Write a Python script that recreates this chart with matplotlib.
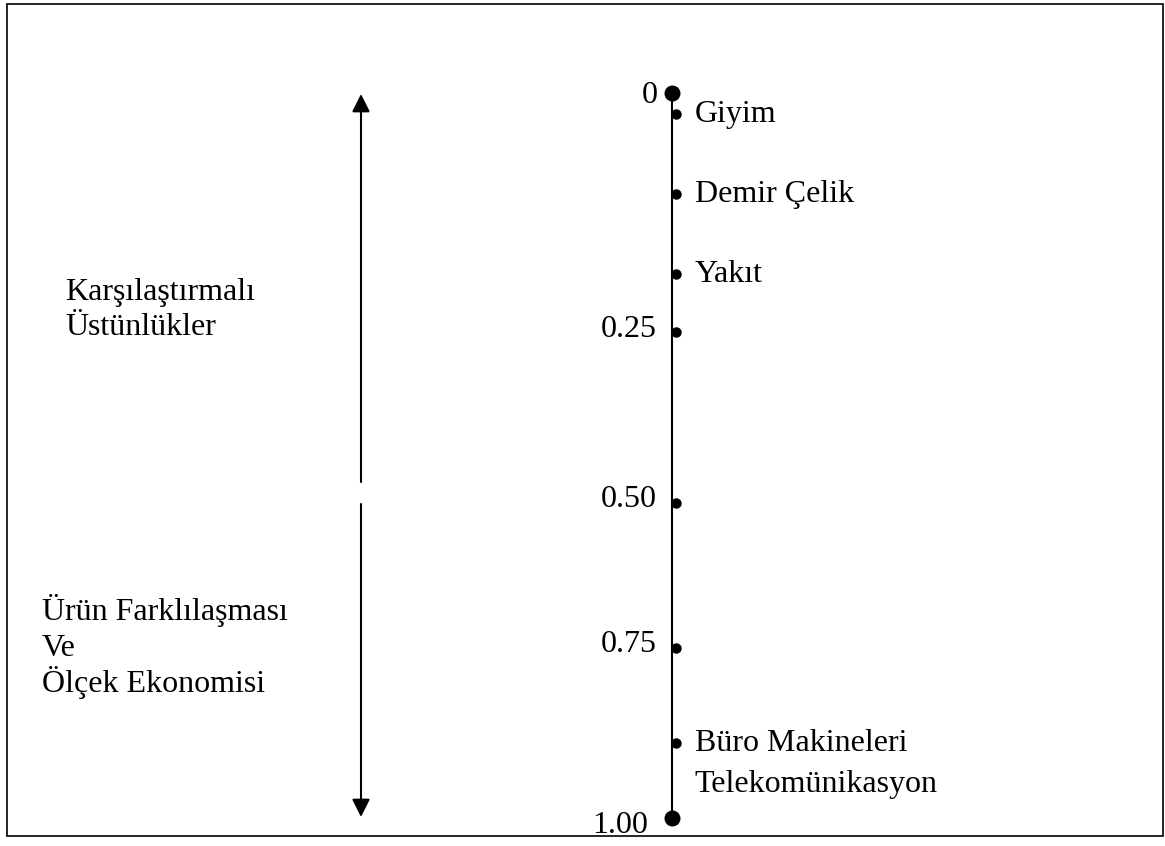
import matplotlib
matplotlib.use('Agg')
import matplotlib.pyplot as plt
from matplotlib.patches import Rectangle, FancyArrowPatch, ArrowStyle
from matplotlib.transforms import Affine2D

# scale ticks: where each tick sits along the line (0 = top, 1 = bottom) and its label
tick_labels = ['0', '0.25', '0.50', '0.75', '1.00']
tick_pos = [0.0, 0.33, 0.565, 0.765, 1.0]

# industries placed on the scale
items = ['Giyim', 'Demir Çelik', 'Yakıt', 'Büro Makineleri\nTelekomünikasyon']
item_pos = [0.029, 0.14, 0.25, 0.897]

top_text = ['Karşılaştırmalı', 'Üstünlükler']
bottom_text = ['Ürün Farklılaşması', 'Ve', 'Ölçek Ekonomisi']

W, H = 1165, 846
FONT = ['Liberation Serif', 'DejaVu Serif']
FS = 23

fig = plt.figure(figsize=(W / 100, H / 100), dpi=100)
# pixel coords, origin top-left (used for frame / side notes)
px = Affine2D().scale(1 / W, -1 / H).translate(0, 1) + fig.transFigure

ax = fig.add_axes([0, (H - 818) / H, 1, (818 - 93) / H])
ax.set_xlim(0, W)
ax.set_ylim(1, 0)
ax.axis('off')

line_x = 672
ax.plot([line_x, line_x], [0, 1], color='black', lw=1.5, zorder=1)

# end points (big) and tick points (small, sitting right of the line)
for lab, p in zip(tick_labels, tick_pos):
    if p == 0.0:
        ax.plot(line_x, p, 'o', color='black', ms=10.5, zorder=3, clip_on=False)
        off = (-10, -7)
    elif p == 1.0:
        ax.plot(line_x, p, 'o', color='black', ms=10.5, zorder=3, clip_on=False)
        off = (-17, -11)
    else:
        ax.plot(line_x + 4, p, 'o', color='black', ms=6.5, zorder=3)
        off = (-11, -3.5)
    ax.annotate(lab, xy=(line_x, p), xytext=off,
                textcoords='offset points', ha='right', va='baseline',
                fontsize=FS, family=FONT)

for lab, p in zip(items, item_pos):
    ax.plot(line_x + 4, p, 'o', color='black', ms=6.5, zorder=3)
    for i, s in enumerate(lab.split('\n')):
        ax.annotate(s, xy=(line_x, p), xytext=(16.5, -5.5 - i * 29.5),
                    textcoords='offset points', ha='left', va='baseline',
                    fontsize=FS, family=FONT)

for i, s in enumerate(top_text):
    fig.text(65, 300 + i * 35, s, transform=px, ha='left', va='baseline',
             fontsize=FS, family=FONT)
for i, s in enumerate(bottom_text):
    fig.text(42, 620 + i * 36, s, transform=px, ha='left', va='baseline',
             fontsize=FS, family=FONT)

# double arrow on the left, broken in the middle
head = ArrowStyle('-|>', head_length=10.8, head_width=5.4)
for a, b in [((361, 482), (361, 94)), ((361, 504), (361, 817))]:
    fig.patches.append(FancyArrowPatch(a, b, transform=px, arrowstyle=head,
                                       mutation_scale=1, lw=1.5, color='black',
                                       shrinkA=0, shrinkB=0))

# outer frame
fig.patches.append(Rectangle((7, 4), 1156, 832, transform=px, fill=False,
                             lw=1.2, edgecolor='black'))

fig.savefig('out.png', dpi=100)
